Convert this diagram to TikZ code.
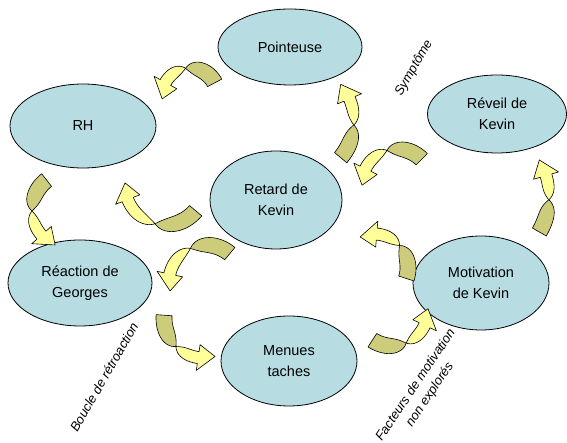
\documentclass[tikz,border=0pt]{standalone}
\usepackage{fontspec}
\setmainfont{Liberation Sans}
\usetikzlibrary{shapes.geometric}
\definecolor{topicblue}{RGB}{183,221,227}
\definecolor{tailcol}{RGB}{204,204,122}
\definecolor{headcol}{RGB}{255,255,153}

% half-widths of the ribbon arrows
\def\tw{8}     % back (tail) part
\def\sw{6}     % front shaft
\def\hw{13}    % arrow head
\def\headlen{17}

% twisted ribbon arrow on a circular arc:
% #1,#2 centre, #3 radius, #4 tail angle, #5 tip angle
\newcommand\ribbonarrow[5]{%
  \pgfmathsetmacro\cA{#4}%
  \pgfmathsetmacro\cB{#5}%
  \pgfmathsetmacro\cM{\cA+0.45*(\cB-\cA)}%
  \pgfmathsetmacro\cH{\cB-sign(\cB-\cA)*\headlen/(#3)*57.2958}%
  \filldraw[ribbon, fill=tailcol]
    plot[domain=\cA:\cM,samples=30]
      ({#1+(#3+\tw*taper((\x-\cA)/(\cM-\cA)))*cos(\x)},
       {#2+(#3+\tw*taper((\x-\cA)/(\cM-\cA)))*sin(\x)})
    -- plot[domain=\cM:\cA,samples=30]
      ({#1+(#3-\tw*taper((\x-\cA)/(\cM-\cA)))*cos(\x)},
       {#2+(#3-\tw*taper((\x-\cA)/(\cM-\cA)))*sin(\x)})
    -- cycle;
  \filldraw[ribbon, fill=headcol]
    plot[domain=\cM:\cH,samples=30]
      ({#1+(#3+\sw*grow((\x-\cM)/(\cH-\cM)))*cos(\x)},
       {#2+(#3+\sw*grow((\x-\cM)/(\cH-\cM)))*sin(\x)})
    -- ({#1+(#3+\hw)*cos(\cH)},{#2+(#3+\hw)*sin(\cH)})
    -- ({#1+(#3)*cos(\cB)},{#2+(#3)*sin(\cB)})
    -- ({#1+(#3-\hw)*cos(\cH)},{#2+(#3-\hw)*sin(\cH)})
    -- plot[domain=\cH:\cM,samples=30]
      ({#1+(#3-\sw*grow((\x-\cM)/(\cH-\cM)))*cos(\x)},
       {#2+(#3-\sw*grow((\x-\cM)/(\cH-\cM)))*sin(\x)})
    -- cycle;
}

\begin{document}
\begin{tikzpicture}[x=1pt,y=1pt,
  declare function={taper(\t)=1-\t*\t*\t*\t*\t; grow(\t)=1-(1-\t)*(1-\t)*(1-\t)*(1-\t);},
  ribbon/.style={draw=black, line width=0.6pt, line join=round},
  topic/.style={ellipse, draw=black, line width=0.8pt, fill=topicblue,
    inner sep=0pt, align=center, font=\fontsize{14.5}{21}\selectfont},
  remark/.style={align=center, font=\fontsize{13}{17}\selectfont\itshape}]
\useasboundingbox (0,0) rectangle (567,443);

% topics
\node[topic, minimum width=144, minimum height=76] (pointeuse) at (290,396) {Pointeuse};
\node[topic, minimum width=146, minimum height=84] (rh) at (83,317) {RH};
\node[topic, minimum width=139, minimum height=78] (reveil) at (497,329) {Réveil de\\Kevin};
\node[topic, minimum width=132, minimum height=98] (retard) at (276,243) {Retard de\\Kevin};
\node[topic, minimum width=144, minimum height=86] (reaction) at (80,160) {Réaction de\\Georges};
\node[topic, minimum width=136, minimum height=94] (motivation) at (481,160) {Motivation\\de Kevin};
\node[topic, minimum width=136, minimum height=90] (menues) at (289,82) {Menues\\taches};

% ribbon arrows between the topics
\ribbonarrow{190}{347}{28}{28}{186}    % Pointeuse -> RH
\ribbonarrow{297}{322}{57}{-40}{40}    % Retard -> Pointeuse
\ribbonarrow{397}{259}{35}{45}{182}    % Reveil -> Retard
\ribbonarrow{165}{258}{40}{-40}{-183}  % Retard -> RH
\ribbonarrow{206}{161}{37}{50}{194}    % Retard -> Reaction
\ribbonarrow{204}{125}{40}{176}{286}   % Reaction -> Menues
\ribbonarrow{392}{133}{36}{237}{362}   % Menues -> Motivation
\ribbonarrow{70}{233}{38}{128}{247}    % RH -> Reaction
\ribbonarrow{477}{247}{72}{-30}{30}    % Motivation -> Reveil
\ribbonarrow{374}{175}{34}{-18}{114}   % Motivation -> Retard

% remarks
\node[remark, rotate=60] (symptome) at (414,375) {Symptôme};
\node[remark, rotate=60] (boucle) at (104,66) {Boucle de rétroaction};
\node[remark, rotate=56] (facteurs) at (423,53) {Facteurs de motivation\\non explorés};
\end{tikzpicture}
\end{document}
